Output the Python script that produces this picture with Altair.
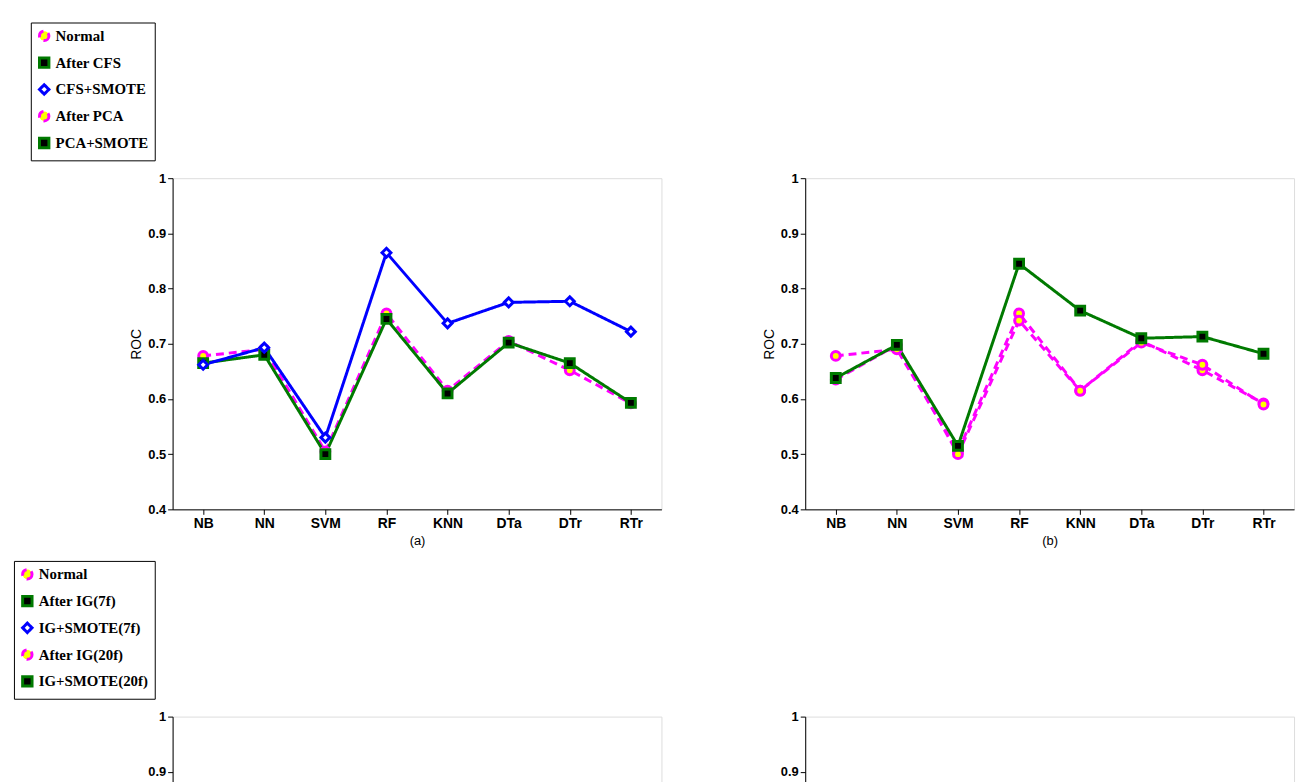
import altair as alt
import pandas as pd

cats = ["NB", "NN", "SVM", "RF", "KNN", "DTa", "DTr", "RTr"]
normal = [0.678, 0.690, 0.505, 0.755, 0.615, 0.705, 0.652, 0.592]
a_after = [0.665, 0.680, 0.500, 0.745, 0.610, 0.702, 0.665, 0.593]
a_smote = [0.662, 0.693, 0.530, 0.865, 0.737, 0.775, 0.777, 0.722]
b_after = [0.635, 0.698, 0.500, 0.742, 0.615, 0.702, 0.662, 0.590]
b_smote = [0.638, 0.698, 0.515, 0.845, 0.760, 0.710, 0.713, 0.682]
c_after = [0.633, 0.692, 0.500, 0.732, 0.613, 0.710, 0.673, 0.600]
c_smote = [0.640, 0.695, 0.520, 0.842, 0.703, 0.742, 0.750, 0.692]
d_after = [0.678, 0.690, 0.503, 0.755, 0.612, 0.705, 0.670, 0.593]
d_smote = [0.682, 0.692, 0.535, 0.868, 0.695, 0.800, 0.768, 0.695]

panels = [
    ("(a)", ["Normal", "After CFS", "CFS+SMOTE"], [normal, a_after, a_smote]),
    ("(b)", ["Normal", "After PCA", "PCA+SMOTE"], [normal, b_after, b_smote]),
    ("(c)", ["Normal", "After IG(7f)", "IG+SMOTE(7f)"], [normal, c_after, c_smote]),
    ("(d)", ["Normal", "After IG(20f)", "IG+SMOTE(20f)"], [normal, d_after, d_smote]),
]

W, H = 493, 334

def panel(cap, names, series):
    rows = []
    for n, vals in zip(names, series):
        for c, v in zip(cats, vals):
            rows.append({"cat": c, "s": n, "v": v})
    df = pd.DataFrame(rows)
    x = alt.X("cat:N", sort=cats, scale=alt.Scale(type="point", padding=0.5),
              axis=alt.Axis(title=cap, titleFont="Arial", titleFontWeight="normal",
                            titleFontSize=13, titlePadding=4, labelAngle=0,
                            labelFont="Arial", labelFontWeight="bold", labelFontSize=14,
                            labelColor="black", tickColor="black", domainColor="black",
                            grid=False))
    y = alt.Y("v:Q", scale=alt.Scale(domain=[0.4, 1.0]),
              axis=alt.Axis(title="ROC", titleFont="Arial", titleFontWeight="normal",
                            titleFontSize=14, values=[0.4, 0.5, 0.6, 0.7, 0.8, 0.9, 1.0],
                            labelExpr="datum.value == 1 ? '1' : format(datum.value, '.1f')",
                            labelFont="Arial", labelFontWeight="bold", labelFontSize=13,
                            labelColor="black", tickColor="black", domainColor="black",
                            grid=False))
    leg = alt.Legend(title=None, orient="bottom-right", strokeColor="black", fillColor="white",
                     padding=6, labelFont="Times New Roman", labelFontWeight="bold",
                     labelFontSize=15, symbolSize=90, symbolStrokeWidth=3, rowPadding=4,
                     labelColor="black")
    col = alt.Color("s:N", scale=alt.Scale(domain=names, range=["#ff00ff", "#007a00", "#0000ff"]),
                    legend=leg, sort=names)
    line = alt.Chart(df).mark_line(strokeWidth=3).encode(
        x=x, y=y, color=col,
        strokeDash=alt.StrokeDash("s:N", scale=alt.Scale(domain=names, range=[[8, 5], [1, 0], [1, 0]]),
                                  legend=leg, sort=names),
    )
    pts = alt.Chart(df).mark_point(size=80, strokeWidth=3, filled=False, opacity=1).encode(
        x=x, y=y, color=col,
        fill=alt.Fill("s:N", scale=alt.Scale(domain=names, range=["yellow", "black", "white"]),
                      legend=leg, sort=names),
        shape=alt.Shape("s:N", scale=alt.Scale(domain=names, range=["circle", "square", "diamond"]),
                        legend=leg, sort=names),
    )
    return alt.layer(line, pts).properties(width=W, height=H)

ps = [panel(*p) for p in panels]
chart = alt.vconcat(
    alt.hconcat(ps[0], ps[1], spacing=100),
    alt.hconcat(ps[2], ps[3], spacing=100),
    spacing=12,
).resolve_scale(color="independent", fill="independent",
                shape="independent", strokeDash="independent").configure_view(
    stroke="black", strokeWidth=1.5).configure(background="white", padding={"left": 5, "top": 9, "right": 5, "bottom": 5})

chart.save("out.html", embed_options={"renderer": "svg", "actions": False})
